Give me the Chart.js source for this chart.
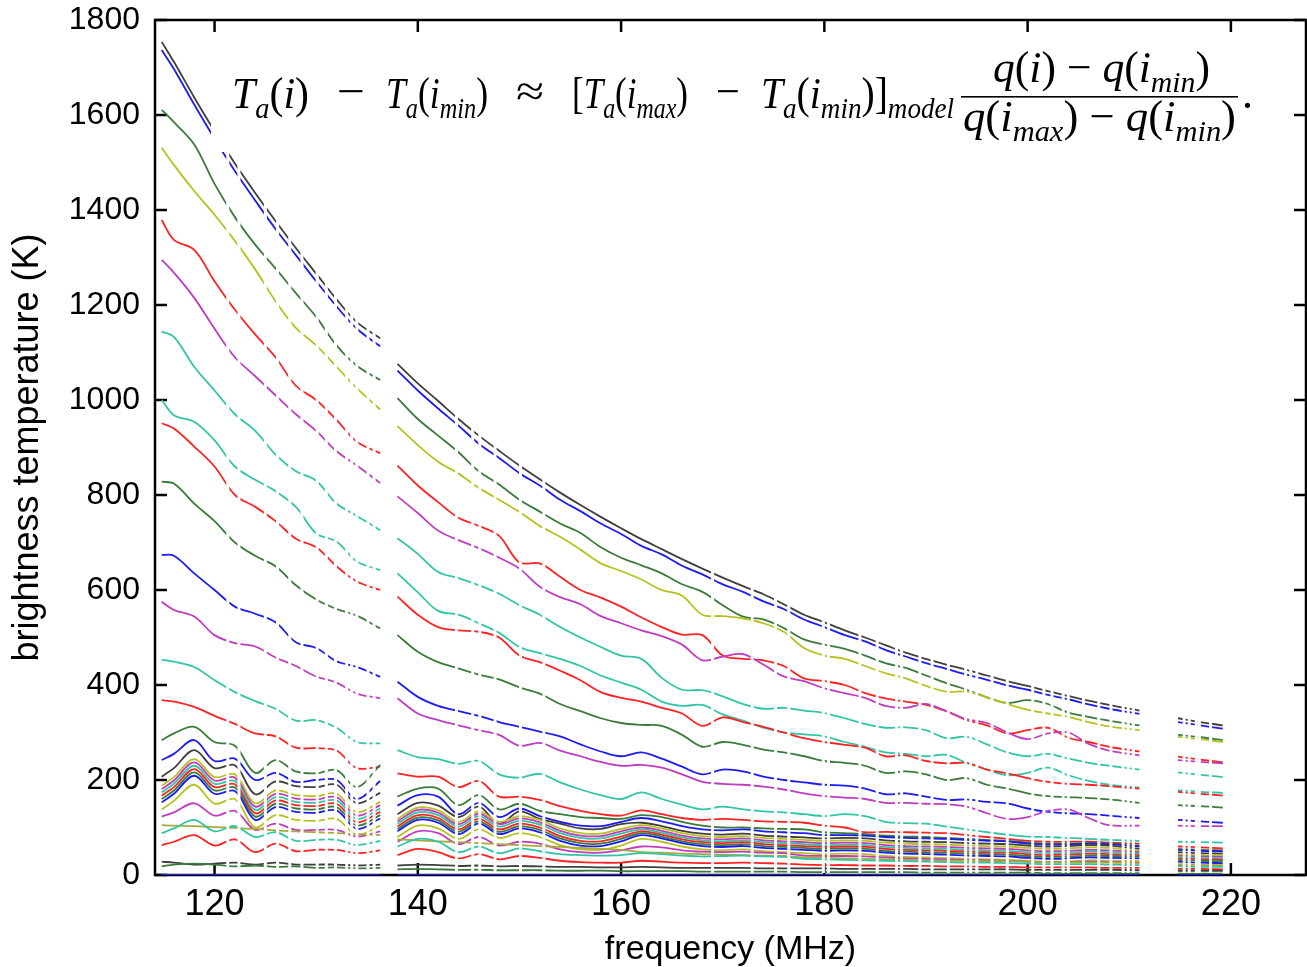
<!DOCTYPE html>
<html>
<head>
<meta charset="utf-8">
<title>Brightness temperature vs frequency</title>
<script src="https://cdn.jsdelivr.net/npm/chart.js@4.4.1/dist/chart.umd.min.js"></script>
<style>
    html, body { margin: 0; padding: 0; background: #fff; }
</style>
</head>
<body>
<canvas id="chart" width="1307" height="967"></canvas>
<script>
// -------------------------------------------------------------
// DATA (K vs MHz)
// -------------------------------------------------------------

// frequency grid; the null entries at 137 and 213 MHz are the flagged bands
const freqs = [114.8, 116, 118, 120, 122, 124, 126, 128, 130, 132, 134, 136.3, 137, 138, 140, 142, 144, 146, 148, 150,
    152, 154, 156, 158, 160, 162, 164, 166, 168, 170, 172, 174, 176, 178, 180, 182, 184, 186, 188, 190,
    192, 194, 196, 198, 200, 202, 204, 206, 208, 211, 213, 214.8, 217, 219.2];

const xTicks = [120, 140, 160, 180, 200, 220];
const yTicks = [0, 200, 400, 600, 800, 1000, 1200, 1400, 1600, 1800];

// single flagged channels, they cut every curve
const flaggedMHz = [121.3, 122.4, 125.0, 126.2, 127.4, 128.6, 130.1, 131.0, 131.9, 133.0, 133.5, 134.0, 135.1, 135.7,
    143.8, 145.4, 146.1, 147.6, 150.1, 152.4, 169.0, 172.9, 175.2, 176.5, 179.9, 180.4,
    183.5, 185.2, 187.1, 187.6, 189.4, 190.6, 192.2, 193.9, 194.4, 195.0, 196.5, 198.0, 200.5, 201.6, 202.4,
    203.5, 204.0, 205.5, 207.0, 208.2, 209.4, 209.9, 210.4, 215.4, 215.9, 216.6, 216.9, 218.0];

// upper, well separated curves
const K1 = [1754, 1712, 1637, 1566, 1498, 1436, 1377, 1320, 1266, 1212, 1164, 1130, null, 1076, 1035, 998, 960, 925, 893, 862,
    833, 805, 779, 754, 730, 707, 686, 665, 645, 626, 608, 591, 570, 548, 532, 515, 500, 484, 468, 455,
    443, 432, 420, 408, 398, 387, 377, 367, 358, 346, null, 330, 322, 315];
const B1 = [1737, 1697, 1622, 1550, 1482, 1420, 1360, 1305, 1250, 1197, 1150, 1113, null, 1062, 1020, 982, 946, 908, 878, 846,
    820, 790, 766, 740, 718, 693, 675, 651, 633, 612, 596, 576, 560, 538, 522, 505, 492, 474, 460, 446,
    434, 422, 411, 399, 390, 379, 370, 359, 350, 339, null, 322, 315, 308];
const G1 = [1611, 1585, 1538, 1455, 1385, 1327, 1277, 1225, 1175, 1115, 1072, 1042, null, 1004, 960, 925, 890, 850, 822, 790,
    765, 740, 720, 690, 668, 652, 635, 612, 596, 568, 544, 538, 520, 496, 485, 476, 462, 446, 436, 420,
    404, 390, 374, 362, 368, 360, 342, 333, 325, 315, null, 295, 290, 284];
const Y1 = [1531, 1495, 1440, 1390, 1335, 1275, 1208, 1152, 1115, 1070, 1025, 980, null, 945, 905, 870, 845, 815, 790, 764,
    735, 712, 685, 656, 640, 622, 600, 588, 548, 545, 540, 530, 512, 478, 462, 455, 440, 425, 414, 398,
    386, 386, 374, 360, 348, 340, 333, 322, 313, 305, null, 291, 286, 280];
const R1 = [1379, 1337, 1316, 1250, 1190, 1138, 1090, 1030, 1000, 958, 912, 888, null, 862, 820, 785, 752, 735, 714, 658,
    656, 628, 600, 584, 565, 542, 522, 506, 505, 462, 455, 452, 440, 414, 408, 400, 383, 372, 365, 358,
    345, 326, 315, 298, 305, 310, 289, 280, 270, 260, null, 249, 243, 237];
const M1 = [1295, 1268, 1215, 1150, 1090, 1050, 1010, 970, 935, 892, 862, 825, null, 797, 762, 725, 705, 688, 668, 645,
    607, 585, 570, 545, 530, 515, 503, 485, 452, 460, 465, 443, 418, 408, 393, 383, 373, 356, 352, 360,
    345, 328, 320, 300, 286, 298, 300, 276, 262, 252, null, 242, 238, 235];
const C1 = [1144, 1133, 1070, 1020, 970, 935, 885, 850, 830, 782, 756, 726, null, 709, 676, 638, 625, 610, 592, 568,
    548, 522, 500, 480, 462, 455, 415, 390, 389, 376, 360, 350, 352, 346, 341, 330, 318, 310, 311, 305,
    288, 291, 275, 258, 250, 255, 245, 236, 230, 222, null, 216, 211, 206];
const C2 = [1000, 968, 954, 915, 860, 832, 808, 775, 719, 702, 660, 642, null, 635, 595, 556, 548, 530, 510, 480,
    467, 455, 440, 420, 405, 390, 365, 356, 358, 338, 325, 310, 300, 296, 292, 280, 270, 258, 255, 250,
    253, 236, 222, 210, 215, 226, 210, 198, 190, 184, null, 178, 175, 173];
const R2 = [951, 940, 902, 860, 800, 775, 745, 708, 690, 650, 618, 600, null, 586, 548, 522, 515, 512, 500, 462,
    448, 430, 410, 385, 373, 365, 352, 340, 314, 332, 322, 312, 300, 288, 280, 274, 268, 250, 252, 240,
    235, 236, 222, 214, 204, 196, 192, 190, 187, 182, null, 175, 171, 167];
const G2 = [828, 824, 782, 745, 700, 672, 650, 610, 580, 560, 546, 519, null, 505, 470, 448, 435, 422, 412, 395,
    382, 360, 345, 330, 320, 316, 314, 295, 270, 280, 274, 264, 258, 250, 240, 236, 230, 215, 218, 212,
    200, 204, 190, 182, 172, 166, 164, 162, 159, 152, null, 147, 145, 142];
const B2 = [674, 672, 635, 600, 565, 550, 532, 490, 478, 450, 438, 417, null, 407, 375, 356, 345, 335, 322, 312,
    302, 292, 275, 260, 250, 258, 245, 228, 212, 222, 218, 207, 200, 195, 190, 188, 182, 170, 172, 165,
    158, 159, 154, 151, 140, 133, 130, 128, 125, 120, null, 116, 113, 110];
const M2 = [575, 558, 544, 505, 488, 481, 458, 440, 418, 405, 382, 372, null, 372, 340, 326, 315, 305, 295, 272,
    278, 262, 250, 238, 230, 232, 226, 212, 196, 192, 190, 186, 180, 172, 166, 163, 160, 152, 152, 150,
    149, 144, 130, 118, 122, 135, 138, 120, 105, 104, null, 104, 103, 103];
const C3 = [453, 449, 438, 410, 385, 366, 350, 325, 326, 310, 280, 277, null, 263, 248, 244, 234, 240, 212, 205,
    213, 195, 180, 168, 160, 174, 160, 148, 138, 144, 138, 134, 132, 128, 124, 128, 124, 112, 109, 108,
    102, 96, 90, 85, 81, 80, 78, 76, 74, 72, null, 70, 69, 68];
const R3 = [368, 365, 354, 335, 318, 298, 292, 268, 267, 262, 225, 228, null, 214, 207, 207, 185, 198, 165, 165,
    158, 145, 135, 128, 125, 136, 128, 120, 116, 118, 116, 113, 112, 110, 104, 100, 90, 91, 90, 89,
    88, 84, 80, 76, 72, 70, 70, 70, 68, 66, null, 60, 58, 56];

// oscillating cluster near the bottom
const G3 = [284, 298, 312, 280, 272, 215, 242, 218, 214, 221, 185, 232, null, 165, 182, 182, 147, 168, 138, 150,
    135, 128, 122, 120, 118, 126, 122, 112, 104, 100, 100, 98, 97, 96, 90, 88, 86, 83, 81, 80,
    78, 76, 74, 72, 68, 66, 66, 67, 66, 62, null, 55, 53, 52];
const B3 = [242, 255, 284, 240, 245, 200, 215, 196, 200, 200, 160, 198, null, 146, 168, 165, 128, 152, 122, 140,
    124, 112, 104, 103, 112, 120, 113, 103, 96, 94, 96, 92, 90, 88, 84, 84, 83, 80, 78, 77,
    76, 74, 72, 71, 66, 64, 64, 66, 65, 60, null, 53, 51, 50];
const K3 = [207, 225, 263, 225, 231, 170, 197, 187, 185, 190, 151, 173, null, 128, 152, 146, 122, 144, 108, 134,
    118, 108, 98, 97, 107, 110, 103, 93, 87, 85, 87, 83, 81, 79, 77, 78, 77, 73, 71, 70,
    69, 67, 66, 65, 62, 60, 61, 63, 62, 55, null, 48, 46, 45];
const band1 = [188, 206, 244, 206, 212, 151, 178, 168, 166, 171, 132, 154, null, 118, 142, 136, 112, 134, 112, 124,
    116, 98, 88, 87, 97, 105, 98, 88, 82, 80, 82, 78, 76, 74, 72, 73, 72, 68, 66, 65,
    64, 62, 61, 60, 57, 55, 56, 58, 57, 51, null, 44, 42, 41];
const band2 = [181, 199, 237, 199, 205, 144, 171, 161, 159, 164, 125, 147, null, 113, 137, 131, 107, 129, 107, 119,
    111, 93, 83, 82, 92, 100, 93, 83, 77, 75, 77, 73, 71, 69, 67, 68, 67, 63, 61, 60,
    59, 57, 56, 55, 52, 50, 51, 53, 52, 48, null, 41, 39, 38];
const band3 = [174, 192, 230, 192, 198, 137, 164, 154, 152, 157, 118, 140, null, 108, 132, 126, 102, 124, 102, 114,
    106, 88, 78, 77, 87, 96, 89, 79, 73, 71, 73, 69, 67, 65, 63, 64, 63, 59, 57, 56,
    55, 53, 52, 51, 48, 46, 47, 49, 48, 45, null, 38, 36, 35];
const band4 = [167, 185, 223, 185, 191, 130, 157, 147, 145, 150, 111, 133, null, 102, 126, 120, 96, 118, 96, 108,
    100, 82, 72, 71, 81, 92, 85, 75, 69, 67, 69, 65, 63, 61, 59, 60, 59, 55, 53, 52,
    51, 49, 48, 47, 44, 42, 43, 45, 44, 42, null, 35, 33, 32];
const band5 = [160, 178, 216, 178, 184, 123, 150, 140, 138, 143, 104, 126, null, 97, 121, 115, 91, 113, 91, 103,
    95, 77, 67, 66, 76, 88, 81, 71, 65, 63, 65, 61, 59, 57, 55, 56, 55, 51, 49, 48,
    47, 45, 44, 43, 40, 38, 39, 41, 40, 39, null, 32, 30, 29];
const band6 = [153, 171, 209, 171, 177, 116, 143, 133, 131, 136, 97, 119, null, 92, 116, 110, 86, 108, 86, 98,
    90, 72, 62, 61, 71, 84, 77, 67, 61, 59, 61, 57, 55, 53, 51, 52, 51, 47, 45, 44,
    43, 41, 40, 39, 36, 34, 35, 37, 36, 35, null, 28, 26, 25];
const Y4 = [138, 156, 190, 150, 160, 100, 126, 116, 114, 118, 85, 104, null, 80, 104, 98, 76, 96, 78, 88,
    80, 63, 54, 53, 62, 76, 70, 60, 54, 52, 54, 50, 48, 46, 44, 45, 44, 40, 38, 37,
    36, 34, 33, 32, 30, 28, 29, 31, 30, 29, null, 23, 21, 20];
const M4 = [123, 132, 151, 125, 135, 95, 108, 95, 95, 95, 81, 92, null, 70, 92, 88, 65, 80, 62, 70,
    66, 54, 48, 47, 52, 60, 58, 52, 49, 48, 49, 47, 46, 41, 40, 40, 39, 37, 35, 34,
    33, 32, 31, 30, 28, 27, 27, 28, 27, 26, null, 21, 20, 19];
const O4 = [105, 104, 103, 101, 99, 97, 94, 92, 90, 88, 86, 84, null, 75, 73, 71, 69, 67, 65, 63,
    61, 59, 57, 55, 53, 48, 47, 45, 44, 43, 42, 41, 40, 37, 36, 35, 34, 33, 32, 31,
    30, 30, 29, 29, 28, 27, 27, 26, 26, 25, null, 22, 21, 21];
const C4 = [88, 98, 116, 92, 103, 80, 90, 72, 74, 74, 63, 72, null, 60, 76, 70, 48, 60, 46, 56,
    50, 44, 42, 41, 42, 46, 44, 41, 39, 40, 41, 39, 38, 34, 33, 32, 31, 30, 29, 28,
    27, 26, 26, 25, 24, 23, 23, 23, 22, 21, null, 18, 17, 17];
const R4 = [63, 70, 84, 62, 75, 48, 66, 50, 53, 53, 46, 52, null, 42, 55, 48, 35, 44, 33, 40,
    36, 30, 27, 26, 26, 30, 28, 26, 25, 25, 26, 25, 24, 22, 21, 21, 20, 20, 19, 19,
    18, 18, 17, 17, 16, 16, 16, 16, 15, 15, null, 13, 13, 12];
const K5 = [28, 26, 22, 24, 26, 22, 26, 22, 22, 22, 20, 22, null, 20, 22, 21, 19, 20, 18, 19,
    18, 17, 17, 16, 16, 17, 16, 15, 15, 15, 15, 14, 14, 14, 14, 13, 13, 13, 13, 12,
    12, 12, 12, 12, 11, 11, 11, 11, 11, 10, null, 9, 9, 9];
const G5 = [18, 22, 24, 22, 18, 20, 17, 18, 15, 16, 14, 15, null, 12, 13, 12, 11, 11, 10, 10,
    10, 9, 9, 9, 8, 8, 8, 8, 7, 7, 7, 7, 7, 6, 6, 6, 6, 6, 6, 5,
    5, 5, 5, 5, 5, 4, 4, 4, 4, 4, null, 3, 3, 3];
const Z0 = [0, 0, 0, 0, 0, 0, 0, 0, 0, 0, 0, 0, null, 0, 0, 0, 0, 0, 0, 0,
    0, 0, 0, 0, 0, 0, 0, 0, 0, 0, 0, 0, 0, 0, 0, 0, 0, 0, 0, 0,
    0, 0, 0, 0, 0, 0, 0, 0, 0, 0, null, 0, 0, 0];

// -------------------------------------------------------------
// STYLE
// -------------------------------------------------------------

const BLK = '#3f3f3f', BLU = '#1c1cf2', GRN = '#3b7b3b', YEL = '#b7c21f', RED = '#ff2222',
    MAG = '#c03cc0', CYN = '#30c6a5', OLV = '#aaa93c';

const series = [
    [Z0, BLU], [G5, GRN], [K5, BLK], [R4, RED], [C4, CYN], [O4, OLV], [M4, MAG], [Y4, YEL],
    [band6, BLU], [band5, GRN], [band4, RED], [band3, CYN], [band2, MAG], [band1, YEL],
    [K3, BLK], [B3, BLU], [G3, GRN],
    [R3, RED], [C3, CYN], [M2, MAG], [B2, BLU], [G2, GRN], [R2, RED], [C2, CYN], [C1, CYN],
    [M1, MAG], [R1, RED], [Y1, YEL], [G1, GRN], [B1, BLU], [K1, BLK]
];

const datasets = series.map(([vals, color]) => ({
    data: vals.map((v, i) => ({ x: freqs[i], y: v })),
    borderColor: color,
    borderWidth: 1.8,
    pointRadius: 0,
    tension: 0.35,
    fill: false
}));

// -------------------------------------------------------------
// PLUGINS: frame with inward ticks, flagged channels, formula box
// -------------------------------------------------------------

const framePlugin = {
    id: 'frame',
    beforeDatasetsDraw(chart) {
        const { ctx, chartArea: a, scales } = chart;
        ctx.save();
        ctx.strokeStyle = '#000';
        ctx.lineWidth = 2.5;
        ctx.strokeRect(a.left, a.top, a.right - a.left, a.bottom - a.top);
        ctx.beginPath();
        xTicks.forEach(v => {
            const px = scales.x.getPixelForValue(v);
            ctx.moveTo(px, a.bottom); ctx.lineTo(px, a.bottom - 12);
            ctx.moveTo(px, a.top); ctx.lineTo(px, a.top + 12);
        });
        yTicks.forEach(v => {
            const py = scales.y.getPixelForValue(v);
            ctx.moveTo(a.left, py); ctx.lineTo(a.left + 12, py);
            ctx.moveTo(a.right, py); ctx.lineTo(a.right - 12, py);
        });
        ctx.stroke();
        ctx.restore();
    }
};

function mathFont(kind) {
    // 'i' italic, 'r' upright, 's' italic subscript
    return (kind === 'r' ? '' : 'italic ') + (kind === 's' ? 30 : 44) + 'px "Liberation Serif", serif';
}

// draws a run of math text squeezed to span x0..x1
function drawGroup(ctx, x0, x1, y, parts) {
    let w = 0;
    parts.forEach(([t, k]) => { ctx.font = mathFont(k); w += ctx.measureText(t).width; });
    ctx.save();
    ctx.translate(x0, 0);
    ctx.scale((x1 - x0) / w, 1);
    let x = 0;
    parts.forEach(([t, k]) => {
        ctx.font = mathFont(k);
        ctx.fillText(t, x, k === 's' ? y + 10 : y);
        x += ctx.measureText(t).width;
    });
    ctx.restore();
}

const overlayPlugin = {
    id: 'overlay',
    afterDatasetsDraw(chart) {
        const { ctx, chartArea: a, scales } = chart;
        ctx.save();
        ctx.fillStyle = '#fff';
        flaggedMHz.forEach(f => {
            const px = scales.x.getPixelForValue(f);
            ctx.fillRect(px - 1.5, a.top + 14, 3, a.bottom - a.top - 16);
        });

        // white box behind the formula
        ctx.fillRect(211, 33, 1054, 119);

        ctx.fillStyle = '#000';
        ctx.textBaseline = 'alphabetic';
        drawGroup(ctx, 232, 309, 108, [['T', 'i'], ['a', 's'], ['(', 'r'], ['i', 'i'], [')', 'r']]);
        drawGroup(ctx, 337, 365, 106, [['\u2212', 'r']]);
        drawGroup(ctx, 386, 488, 108, [['T', 'i'], ['a', 's'], ['(', 'r'], ['i', 'i'], ['min', 's'], [')', 'r']]);
        drawGroup(ctx, 516, 544, 106, [['\u2248', 'r']]);
        drawGroup(ctx, 572, 688, 108, [['[', 'r'], ['T', 'i'], ['a', 's'], ['(', 'r'], ['i', 'i'], ['max', 's'], [')', 'r']]);
        drawGroup(ctx, 716, 740, 106, [['\u2212', 'r']]);
        drawGroup(ctx, 761, 954, 108, [['T', 'i'], ['a', 's'], ['(', 'r'], ['i', 'i'], ['min', 's'], [')', 'r'], [']', 'r'], ['model', 's']]);
        drawGroup(ctx, 993, 1210, 82, [['q', 'i'], ['(', 'r'], ['i', 'i'], [')', 'r'], [' \u2212 ', 'r'], ['q', 'i'], ['(', 'r'], ['i', 'i'], ['min', 's'], [')', 'r']]);
        drawGroup(ctx, 963, 1236, 131, [['q', 'i'], ['(', 'r'], ['i', 'i'], ['max', 's'], [')', 'r'], [' \u2212 ', 'r'], ['q', 'i'], ['(', 'r'], ['i', 'i'], ['min', 's'], [')', 'r']]);
        ctx.font = mathFont('r');
        ctx.fillText('.', 1242, 108);
        ctx.fillRect(961, 96, 277, 1.6);
        ctx.restore();
    }
};

// -------------------------------------------------------------
// CHART
// -------------------------------------------------------------

// keep the plot box where the figure has it: no extra room for label overhang
function noOverhang(s) {
    s.paddingTop = 0;
    s.paddingBottom = 0;
    s.paddingLeft = 0;
    s.paddingRight = 0;
}

new Chart(document.getElementById('chart').getContext('2d'), {
    type: 'line',
    data: { datasets },
    options: {
        responsive: false,
        animation: false,
        events: [],
        layout: { padding: { top: 20, right: 1, left: 0, bottom: 0 } },
        plugins: { legend: { display: false }, tooltip: { enabled: false } },
        scales: {
            x: {
                type: 'linear',
                min: 114.14,
                max: 227.39,
                afterBuildTicks: s => { s.ticks = xTicks.map(v => ({ value: v })); },
                afterFit: s => { s.height = 92; noOverhang(s); },
                grid: { display: false, drawTicks: false },
                border: { display: false },
                ticks: {
                    padding: 8,
                    maxRotation: 0,
                    autoSkip: false,
                    color: '#000',
                    font: { family: 'Liberation Sans', size: 36 },
                    callback: v => String(v)
                },
                title: {
                    display: true,
                    text: 'frequency (MHz)',
                    color: '#000',
                    padding: 0,
                    font: { family: 'Liberation Sans', size: 34, lineHeight: 1 }
                }
            },
            y: {
                min: 0,
                max: 1800,
                afterBuildTicks: s => { s.ticks = yTicks.map(v => ({ value: v })); },
                afterFit: s => { s.width = 155; noOverhang(s); },
                grid: { display: false, drawTicks: false },
                border: { display: false },
                ticks: {
                    padding: 15,
                    color: '#000',
                    font: { family: 'Liberation Sans', size: 32 },
                    callback: v => String(v)
                },
                title: {
                    display: true,
                    text: 'brightness temperature (K)',
                    color: '#000',
                    padding: { top: 10, bottom: 0 },
                    font: { family: 'Liberation Sans', size: 36, lineHeight: 1 }
                }
            }
        }
    },
    plugins: [framePlugin, overlayPlugin]
});
</script>
</body>
</html>
